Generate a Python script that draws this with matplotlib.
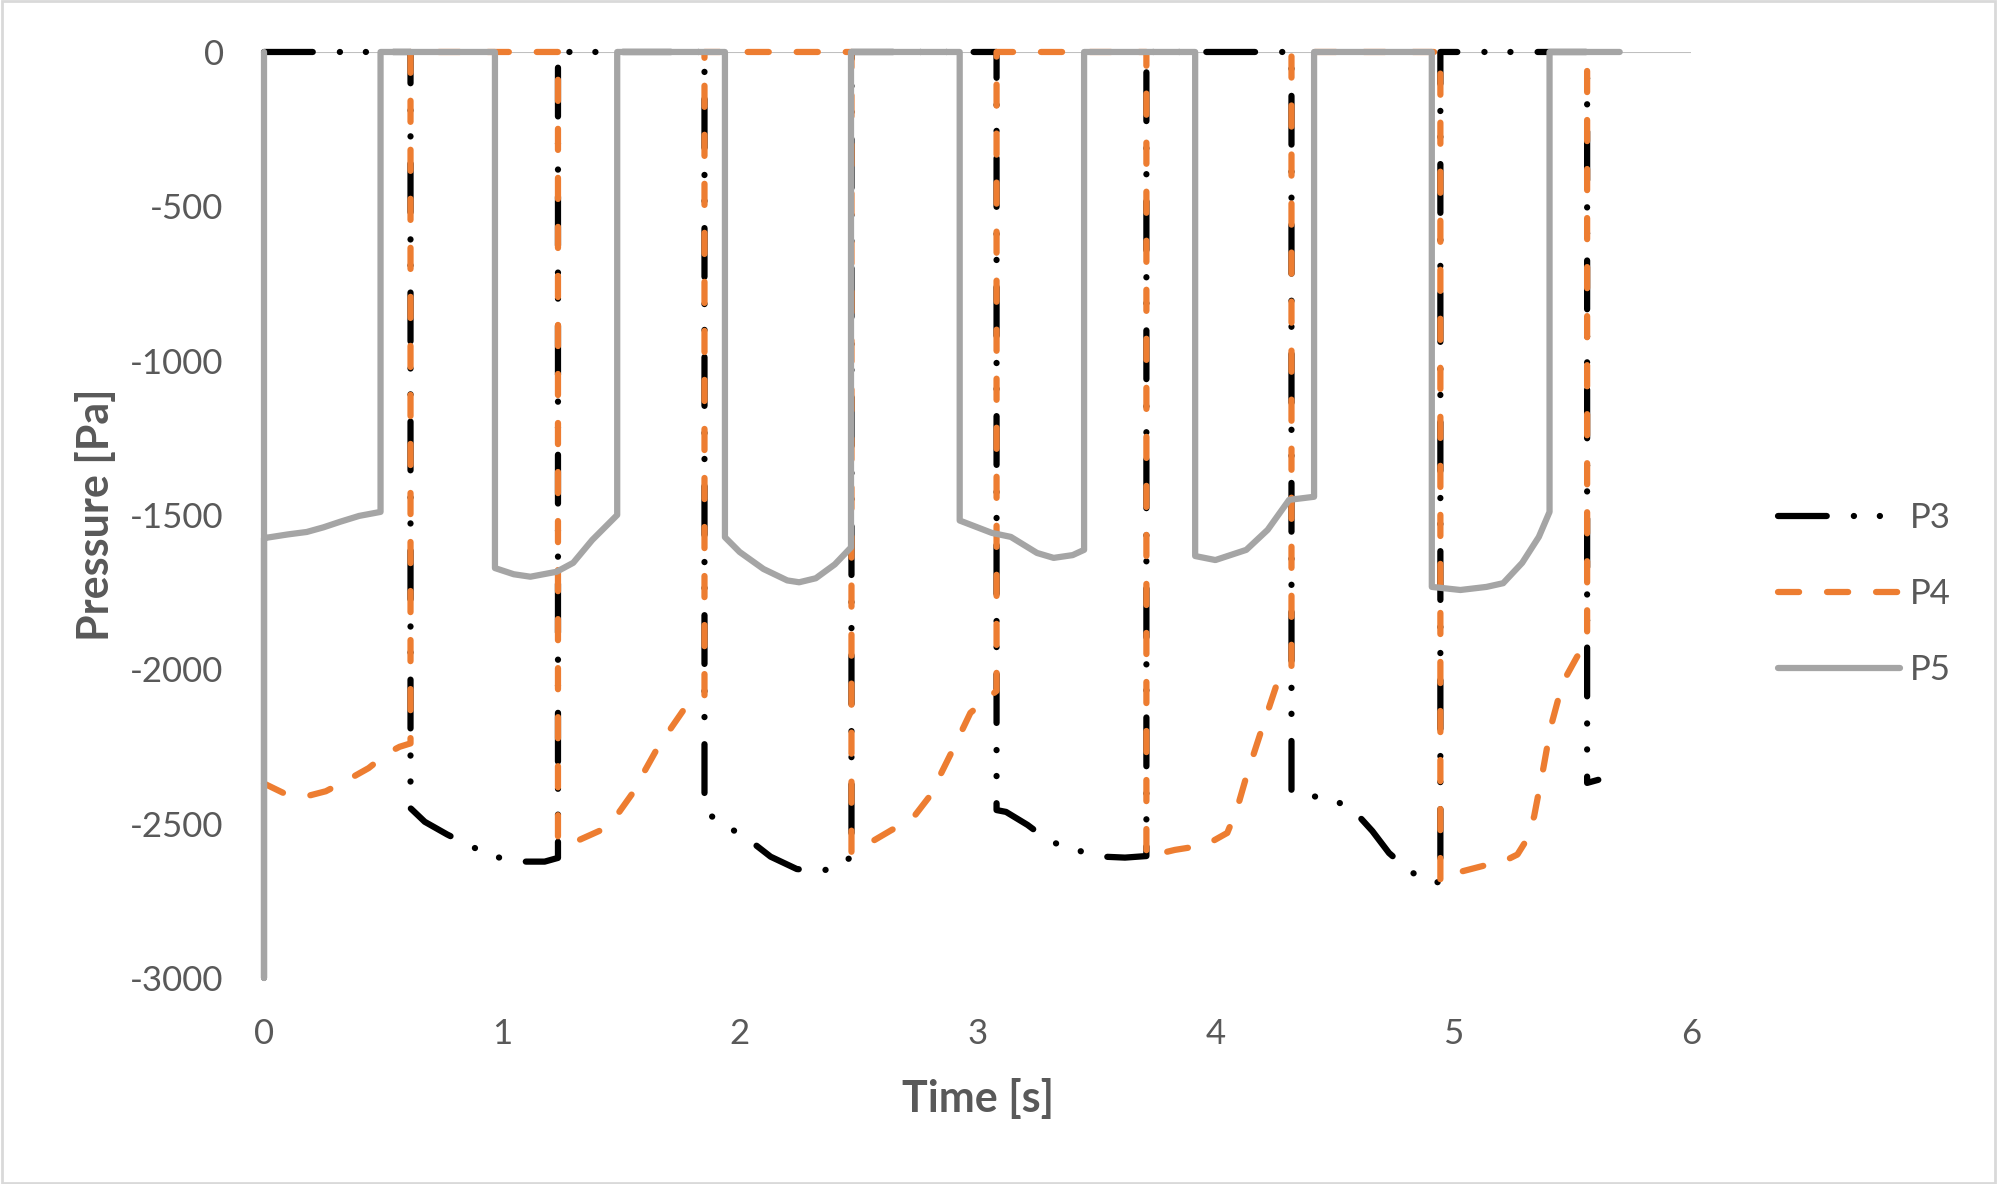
import numpy as np
import matplotlib.pyplot as plt
from matplotlib.lines import Line2D
from matplotlib.patches import Rectangle

plt.rcParams['font.family'] = ['Lato', 'DejaVu Sans']
plt.rcParams['lines.scale_dashes'] = False
plt.rcParams['axes.unicode_minus'] = False

# --- data: time [s] and pressure [Pa] ---
t_p3 = [0, 0.616, 0.616, 0.676, 0.77, 0.866, 0.97, 1.076, 1.18, 1.236, 1.236,
        1.852, 1.852, 1.87, 1.95, 2.04, 2.13, 2.24, 2.34, 2.42, 2.47, 2.47,
        3.08, 3.08, 3.12, 3.21, 3.30, 3.41, 3.53, 3.62, 3.71, 3.71,
        4.32, 4.32, 4.40, 4.49, 4.58, 4.66, 4.73, 4.82, 4.91, 4.946, 4.946,
        5.563, 5.563, 5.61]
p3 = [0, 0, -2450, -2494, -2535, -2572, -2607, -2623, -2623, -2611, 0,
      0, -2455, -2470, -2510, -2553, -2607, -2647, -2655, -2635, -2607, 0,
      0, -2456, -2462, -2504, -2556, -2585, -2607, -2610, -2605, 0,
      0, -2401, -2410, -2420, -2456, -2524, -2595, -2656, -2689, -2690, 0,
      0, -2368, -2358]

t_p4 = [0, 0.08, 0.17, 0.26, 0.35, 0.44, 0.52, 0.57, 0.616, 0.616,
        1.236, 1.236, 1.316, 1.42, 1.49, 1.55, 1.60, 1.65, 1.70, 1.77, 1.852, 1.852,
        2.47, 2.47, 2.545, 2.64, 2.72, 2.80, 2.89, 2.97, 3.05, 3.08, 3.08,
        3.71, 3.71, 3.83, 3.96, 4.05, 4.09, 4.13, 4.19, 4.26, 4.32, 4.32,
        4.946, 4.946, 5.01, 5.14, 5.21, 5.27, 5.30, 5.34, 5.38, 5.41, 5.46, 5.52,
        5.563, 5.563]
p4 = [-2370, -2400, -2413, -2395, -2359, -2320, -2271, -2251, -2240, 0,
      0, -2559, -2556, -2520, -2466, -2401, -2330, -2261, -2203, -2125, -2089, 0,
      0, -2596, -2563, -2520, -2490, -2410, -2270, -2141, -2089, -2070, 0,
      0, -2607, -2585, -2569, -2530, -2455, -2348, -2206, -2044, -2000, 0,
      0, -2689, -2660, -2634, -2623, -2600, -2563, -2477, -2316, -2187, -2044, -1960,
      -1911, 0]

t_p5 = [0, 0, 0, 0.1, 0.18, 0.25, 0.32, 0.40, 0.49, 0.49,
        0.971, 0.971, 1.05, 1.12, 1.23, 1.30, 1.38, 1.485, 1.485,
        1.938, 1.938, 2.0, 2.1, 2.2, 2.25, 2.32, 2.4, 2.468, 2.468,
        2.925, 2.925, 3.06, 3.14, 3.25, 3.32, 3.40, 3.448, 3.448,
        3.915, 3.915, 4.0, 4.13, 4.22, 4.31, 4.415, 4.415,
        4.91, 4.91, 5.03, 5.14, 5.21, 5.29, 5.36, 5.405, 5.405, 5.70]
p5 = [0, -3000, -1575, -1563, -1555, -1540, -1522, -1503, -1490, 0,
      0, -1672, -1692, -1700, -1684, -1655, -1581, -1500, 0,
      0, -1572, -1620, -1675, -1712, -1718, -1705, -1660, -1605, 0,
      0, -1518, -1558, -1571, -1623, -1639, -1630, -1613, 0,
      0, -1633, -1646, -1613, -1548, -1451, -1441, 0,
      0, -1733, -1743, -1733, -1721, -1655, -1571, -1490, 0, 0]

labels = ['P3', 'P4', 'P5']
colors = ['#000000', '#ED7D31', '#A5A5A5']
lw = 4.5
dash_p3 = (0, (35.1, 19.5, 0.1, 18.6, 0.1, 19.5))
dash_p4 = (0, (15.2, 20.1))

fig = plt.figure(figsize=(19.97, 11.84), dpi=100)
ax = fig.add_axes([0.1322, 0.174, 0.7146, 0.7821])

ax.axhline(0, color='#BFBFBF', lw=1.5, zorder=1)
# series drawn in Excel order: P3, then P4, then P5 on top
ax.plot(t_p3, p3, color=colors[0], lw=lw, linestyle=dash_p3,
        dash_capstyle='round', dash_joinstyle='round', clip_on=False, zorder=2)
ax.plot(t_p4, p4, color=colors[1], lw=lw, linestyle=dash_p4,
        dash_capstyle='round', dash_joinstyle='round', clip_on=False, zorder=3)
ax.plot(t_p5, p5, color=colors[2], lw=lw, solid_capstyle='round',
        solid_joinstyle='round', clip_on=False, zorder=4)

ax.set_xlim(0, 6)
ax.set_ylim(-3000, 0)
ax.set_xticks(np.arange(0, 7, 1))
ax.set_yticks(np.arange(-3000, 1, 500))
for s in ax.spines.values():
    s.set_visible(False)
ax.tick_params(axis='both', length=0, labelsize=25, colors='#595959', pad=29)

ax.set_xlabel('Time [s]', fontsize=31, fontweight='bold', color='#595959', labelpad=20)
ax.set_ylabel('Pressure [Pa]', fontsize=31, fontweight='bold', color='#595959', labelpad=10)

handles = [
    Line2D([], [], color=colors[0], lw=lw, linestyle=dash_p3, dash_capstyle='round'),
    Line2D([], [], color=colors[1], lw=lw, linestyle=dash_p4, dash_capstyle='round'),
    Line2D([], [], color=colors[2], lw=lw, solid_capstyle='round'),
]
leg = fig.legend(handles, labels, loc='center left', bbox_to_anchor=(0.8905, 0.4985),
                 frameon=False, fontsize=25, handlelength=3.5, handletextpad=0.3,
                 labelspacing=1.27, borderpad=0, borderaxespad=0)
for txt in leg.get_texts():
    txt.set_color('#595959')

fig.patches.append(Rectangle((0.001, 0.001), 0.998, 0.998, transform=fig.transFigure,
                             fill=False, edgecolor='#D9D9D9', lw=2))

fig.savefig('out.png', dpi=100)
